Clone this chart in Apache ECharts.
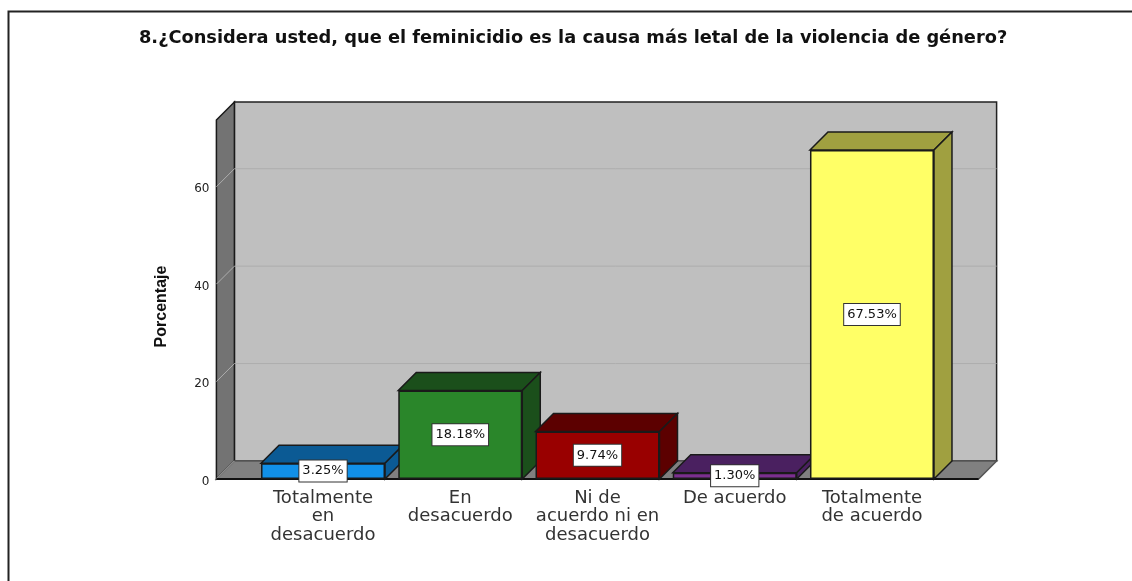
<!DOCTYPE html>
<html>
<head>
<meta charset="utf-8">
<style>
  html, body { margin: 0; padding: 0; background: #fff; }
  #chart { width: 1132px; height: 581px; }
</style>
<script src="https://cdn.jsdelivr.net/npm/echarts@6/dist/echarts.min.js"></script>
</head>
<body>
<div id="chart"></div>
<script>
const titleText = '8.¿Considera usted, que el feminicidio es la causa más letal de la violencia de género?'
const yName = 'Porcentaje'
const categories = ['Totalmente\nen\ndesacuerdo', 'En\ndesacuerdo', 'Ni de\nacuerdo ni en\ndesacuerdo', 'De acuerdo', 'Totalmente\nde acuerdo']
const values = [3.25, 18.18, 9.74, 1.30, 67.53]
const yTicks = [0, 20, 40, 60]
const frontColors = ['#1190e8', '#2a862a', '#990000', '#7b2f8f', '#ffff66']
const sideColors = ['#0b5a94', '#1b4f1b', '#5c0000', '#4a2060', '#a0a040']

const depth = 18 // how far the back wall sits behind the front plane
const barWidth = 124
const wallPadLeft = 38
const wallPadRight = 38
const edge = '#1a1a1a'

function poly(points, fill, stroke) {
  return {
    type: 'polygon',
    shape: { points },
    style: { fill, stroke: stroke || 'none', lineWidth: 1.5 }
  }
}

function renderWalls(params, api) {
  const cs = params.coordSys
  const left = cs.x - wallPadLeft
  const right = cs.x + cs.width + wallPadRight
  const top = cs.y
  const bottom = cs.y + cs.height
  const children = [
    poly([[left + depth, top - depth], [right + depth, top - depth], [right + depth, bottom - depth], [left + depth, bottom - depth]], '#bfbfbf', '#222'),
    poly([[left, top], [left + depth, top - depth], [left + depth, bottom - depth], [left, bottom]], '#737373', edge),
    poly([[left, bottom], [left + depth, bottom - depth], [right + depth, bottom - depth], [right, bottom]], '#808080', '#555')
  ]
  yTicks.forEach(t => {
    const y = api.coord([0, t])[1]
    const color = '#adadad'
    if (t > 0) {
      children.push({ type: 'line', shape: { x1: left + depth, y1: y - depth, x2: right + depth, y2: y - depth }, style: { stroke: color, lineWidth: 1 } })
    }
    children.push({ type: 'line', shape: { x1: left, y1: y, x2: left + depth, y2: y - depth }, style: { stroke: color, lineWidth: 1 } })
  })
  // front edge of the floor
  children.push({ type: 'line', shape: { x1: left, y1: bottom, x2: right, y2: bottom }, style: { stroke: '#111', lineWidth: 2 } })
  return { type: 'group', children }
}

function renderCube(params, api) {
  const i = api.value(0)
  const p = api.coord([i, api.value(1)])
  const base = api.coord([i, 0])
  const x1 = p[0] - barWidth / 2
  const x2 = p[0] + barWidth / 2
  const color = sideColors[i]
  return {
    type: 'group',
    children: [
      poly([[x1, p[1]], [x1 + depth, p[1] - depth], [x2 + depth, p[1] - depth], [x2, p[1]]], color, edge),
      poly([[x2, p[1]], [x2 + depth, p[1] - depth], [x2 + depth, base[1] - depth], [x2, base[1]]], color, edge)
    ]
  }
}

const chart = echarts.init(document.getElementById('chart'))
chart.setOption({
  animation: false,
  backgroundColor: '#fff',
  textStyle: { fontFamily: 'DejaVu Sans' },
  title: {
    text: titleText,
    left: 134,
    top: 24,
    textStyle: { fontSize: 17.8, fontWeight: 'bold', color: '#111', fontFamily: 'DejaVu Sans' }
  },
  graphic: [{
    type: 'polyline',
    shape: { points: [[8.5, 581], [8.5, 11.5], [1132, 11.5]] },
    style: { stroke: '#222', lineWidth: 2, fill: 'none' },
    silent: true
  }],
  grid: { left: 254.4, top: 120, width: 686.2, height: 359 },
  xAxis: {
    type: 'category',
    data: categories,
    axisLine: { show: false },
    axisTick: { show: false },
    axisLabel: { interval: 0, margin: 10, fontSize: 18, lineHeight: 18.5, color: '#333', fontFamily: 'DejaVu Sans' }
  },
  yAxis: {
    type: 'value',
    min: 0,
    max: 73.7,
    interval: 20,
    offset: wallPadLeft,
    name: yName,
    nameLocation: 'middle',
    nameGap: 47,
    nameTextStyle: { fontSize: 16, fontWeight: 'bold', color: '#111', fontFamily: 'Liberation Sans', padding: [0, 0, 0, -14] },
    axisLine: { show: false },
    axisTick: { show: false },
    splitLine: { show: false },
    // top-aligned with a short line box, sits the digits a touch under the tick like the original
    axisLabel: { showMaxLabel: false, margin: 7, fontSize: 12, color: '#222', fontFamily: 'DejaVu Sans', verticalAlign: 'top', lineHeight: 5 }
  },
  series: [
    {
      type: 'custom',
      renderItem: renderWalls,
      data: [[0, 0]],
      clip: false,
      silent: true,
      z: 1
    },
    {
      type: 'custom',
      renderItem: renderCube,
      data: values.map((v, i) => [i, v]),
      encode: { x: 0, y: 1 },
      clip: false,
      silent: true,
      z: 2
    },
    {
      type: 'bar',
      data: values.map((v, i) => ({ value: v, itemStyle: { color: frontColors[i] } })),
      barWidth,
      z: 3,
      itemStyle: { borderColor: edge, borderWidth: 1.5 },
      label: {
        show: true,
        position: 'inside',
        formatter: p => p.value.toFixed(2) + '%',
        fontSize: 13,
        color: '#111',
        backgroundColor: '#fff',
        borderColor: '#333',
        borderWidth: 1,
        padding: [5, 3, 3, 3],
        fontFamily: 'DejaVu Sans'
      }
    }
  ]
})
</script>
</body>
</html>
